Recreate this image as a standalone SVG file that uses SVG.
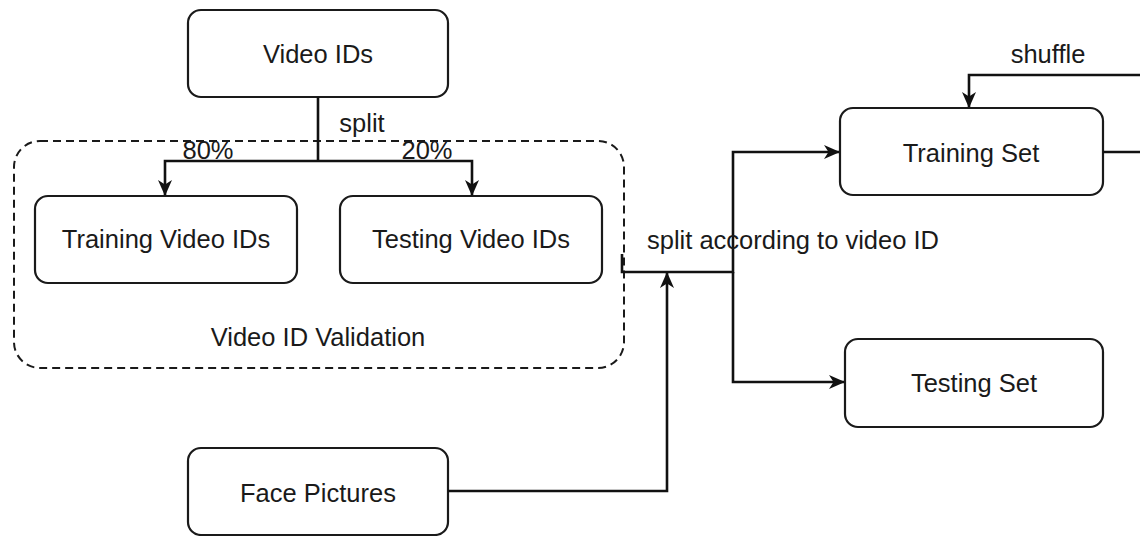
<svg xmlns="http://www.w3.org/2000/svg" width="1140" height="536" viewBox="0 0 1140 536">
<style>
.box{fill:#fff;stroke:#1a1a1a;stroke-width:2.2}
.grp{fill:none;stroke:#1a1a1a;stroke-width:2;stroke-dasharray:8 5}
.t{font-family:"Liberation Sans",Arial,sans-serif;font-size:25.5px;fill:#1a1a1a;text-anchor:middle}
.lbl{font-family:"Liberation Sans",Arial,sans-serif;font-size:25.5px;fill:#1a1a1a}
.e{fill:none;stroke:#111;stroke-width:2.6}
</style>
<defs>
<marker id="arr" viewBox="0 0 16 16" refX="15" refY="8" markerWidth="16" markerHeight="16" markerUnits="userSpaceOnUse" orient="auto">
<path d="M0,1 L16,8 L0,15 L4.5,8 z" fill="#111"/>
</marker>
</defs>
<rect x="0" y="0" width="1140" height="536" fill="#fff"/>
<g id="validation-group">
<rect class="grp" x="14" y="141" width="610" height="227" rx="26"/>
<text class="t" x="318" y="346">Video ID Validation</text>
</g>
<g id="video-ids">
<rect class="box" x="188" y="10" width="260" height="87" rx="13"/>
<text class="t" x="318" y="63">Video IDs</text>
</g>
<g id="training-video-ids">
<rect class="box" x="35" y="196" width="262" height="87" rx="13"/>
<text class="t" x="166" y="248">Training Video IDs</text>
</g>
<g id="testing-video-ids">
<rect class="box" x="340" y="196" width="262" height="87" rx="13"/>
<text class="t" x="471" y="248">Testing Video IDs</text>
</g>
<g id="face-pictures">
<rect class="box" x="188" y="448" width="260" height="87" rx="13"/>
<text class="t" x="318" y="502">Face Pictures</text>
</g>
<g id="training-set">
<rect class="box" x="840" y="108" width="263" height="87" rx="13"/>
<text class="t" x="971" y="162">Training Set</text>
</g>
<g id="testing-set">
<rect class="box" x="845" y="339" width="258" height="88" rx="13"/>
<text class="t" x="974" y="392">Testing Set</text>
</g>
<g id="connectors">
<path class="e" d="M318,97 V161"/>
<path class="e" d="M318,161 H165 V195" marker-end="url(#arr)"/>
<path class="e" d="M318,161 H472 V195" marker-end="url(#arr)"/>
<path class="e" d="M622,254 V272 H733 V152 H839" marker-end="url(#arr)"/>
<path class="e" d="M733,272 V382 H844" marker-end="url(#arr)"/>
<path class="e" d="M448,491 H667 V273" marker-end="url(#arr)"/>
<path class="e" d="M1103,152 H1142"/>
<path class="e" d="M1142,75 H969 V107" marker-end="url(#arr)"/>
<text class="lbl" x="362" y="132" text-anchor="middle">split</text>
<text class="lbl" x="208" y="159" text-anchor="middle">80%</text>
<text class="lbl" x="427" y="159" text-anchor="middle">20%</text>
<text class="lbl" x="647" y="249">split according to video ID</text>
<text class="lbl" x="1048" y="63" text-anchor="middle">shuffle</text>
</g>
</svg>
